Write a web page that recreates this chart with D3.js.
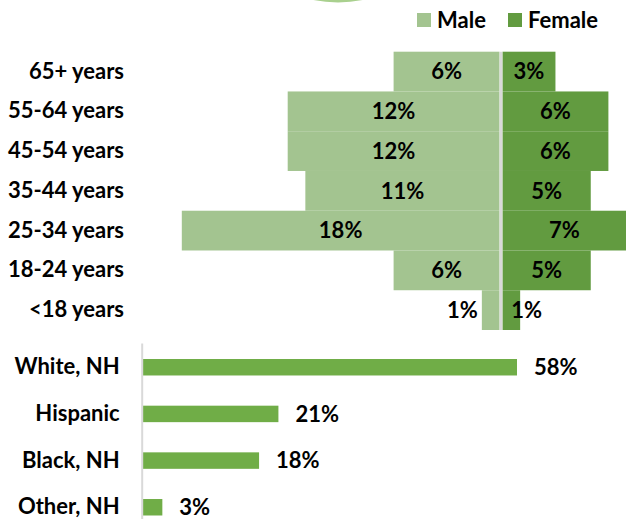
<!DOCTYPE html>
<html>
<head>
<meta charset="utf-8">
<script src="https://cdn.jsdelivr.net/npm/d3@7"></script>
<style>
  body { margin: 0; background: #fff; }
  svg { display: block; font-family: Lato, "Open Sans", sans-serif; font-weight: 700; }
</style>
</head>
<body>
<div id="chart"></div>
<script>
// age pyramid data (percent)
const ageGroups = ["65+ years", "55-64 years", "45-54 years", "35-44 years", "25-34 years", "18-24 years", "<18 years"];
const maleValues = [6, 12, 12, 11, 18, 6, 1];
const femaleValues = [3, 6, 6, 5, 7, 5, 1];
const seriesNames = ["Male", "Female"];

// race / ethnicity data (percent)
const ethGroups = ["White, NH", "Hispanic", "Black, NH", "Other, NH"];
const ethValues = [58, 21, 18, 3];

const width = 626, height = 519;
const maleColor = "#a3c490", femaleColor = "#629b40", ethColor = "#70ad47";
const fontSize = 22;

let svg = d3.select("#chart").append("svg")
    .attr("width", width)
    .attr("height", height);

// decorative circle peeking in at the top
svg.append("circle")
    .attr("cx", 338).attr("cy", -123.5).attr("r", 126)
    .style("fill", "#a9d08e");

// ---- pyramid ----
let centerX = 501;
let pxPerPct = 17.65;
let xMale = d3.scaleLinear().domain([0, 1]).range([centerX - 1.5, centerX - 1.5 - pxPerPct]);
let xFemale = d3.scaleLinear().domain([0, 1]).range([centerX + 1.5, centerX + 1.5 + pxPerPct]);
let yAge = d3.scaleBand().domain(ageGroups).range([51.7, 330]).padding(0);

let ageData = ageGroups.map((g, i) => ({group: g, male: maleValues[i], female: femaleValues[i]}));

svg.selectAll(".male-bar")
    .data(ageData)
    .enter().append("rect")
    .attr("class", "male-bar")
    .attr("x", d => xMale(d.male))
    .attr("y", d => yAge(d.group))
    .attr("width", d => xMale(0) - xMale(d.male))
    .attr("height", yAge.bandwidth())
    .style("fill", maleColor);

svg.selectAll(".female-bar")
    .data(ageData)
    .enter().append("rect")
    .attr("class", "female-bar")
    .attr("x", xFemale(0))
    .attr("y", d => yAge(d.group))
    .attr("width", d => xFemale(d.female) - xFemale(0))
    .attr("height", yAge.bandwidth())
    .style("fill", femaleColor);

// center axis line
svg.append("line")
    .attr("x1", centerX).attr("x2", centerX)
    .attr("y1", yAge.range()[0]).attr("y2", yAge.range()[1])
    .style("stroke", "#d9d9d9")
    .style("stroke-width", 2.5);

// value labels (small bars get their label pushed aside)
svg.selectAll(".male-label")
    .data(ageData)
    .enter().append("text")
    .attr("class", "male-label")
    .attr("x", d => d.male < 2 ? xMale(d.male) - 4 : (xMale(d.male) + xMale(0)) / 2)
    .attr("y", d => yAge(d.group) + yAge.bandwidth() / 2)
    .attr("dy", "0.35em")
    .attr("text-anchor", d => d.male < 2 ? "end" : "middle")
    .style("font-size", fontSize + "px")
    .text(d => d.male + "%");

svg.selectAll(".female-label")
    .data(ageData)
    .enter().append("text")
    .attr("class", "female-label")
    .attr("x", d => d.female < 2 ? (xFemale(d.female) + xFemale(0)) / 2 : (xFemale(d.female) + xFemale(0)) / 2)
    .attr("y", d => yAge(d.group) + yAge.bandwidth() / 2)
    .attr("dy", "0.35em")
    .attr("text-anchor", d => d.female < 2 ? "start" : "middle")
    .style("font-size", fontSize + "px")
    .text(d => d.female + "%");

// age category labels
let ageAxis = svg.append("g")
    .attr("transform", "translate(126,0)")
    .call(d3.axisLeft(yAge).tickSize(0).tickPadding(2));
ageAxis.select(".domain").remove();
ageAxis.selectAll("text")
    .style("font-size", fontSize + "px")
    .style("font-family", "Lato, sans-serif")
    .style("font-weight", 700)
    .style("fill", "#000");

// legend
let legend = svg.selectAll(".legend")
    .data(seriesNames)
    .enter().append("g")
    .attr("class", "legend")
    .attr("transform", (d, i) => `translate(${i === 0 ? 417 : 508},13)`);
legend.append("rect")
    .attr("width", 14).attr("height", 14)
    .style("fill", (d, i) => i === 0 ? maleColor : femaleColor);
legend.append("text")
    .attr("x", 20).attr("y", 7).attr("dy", "0.35em")
    .style("font-size", fontSize + "px")
    .text(d => d);

// ---- race / ethnicity bars ----
let xEth = d3.scaleLinear().domain([0, 58]).range([143, 517]);
let yEth = d3.scaleBand().domain(ethGroups).range([343, 531.5])
    .paddingInner(0.647).paddingOuter(0.343);

svg.selectAll(".eth-bar")
    .data(ethGroups)
    .enter().append("rect")
    .attr("class", "eth-bar")
    .attr("x", xEth(0))
    .attr("y", d => yEth(d))
    .attr("width", (d, i) => xEth(ethValues[i]) - xEth(0))
    .attr("height", yEth.bandwidth())
    .style("fill", ethColor);

svg.selectAll(".eth-label")
    .data(ethGroups)
    .enter().append("text")
    .attr("class", "eth-label")
    .attr("x", (d, i) => xEth(ethValues[i]) + 17)
    .attr("y", d => yEth(d) + yEth.bandwidth() / 2)
    .attr("dy", "0.35em")
    .style("font-size", fontSize + "px")
    .text((d, i) => ethValues[i] + "%");

let ethAxis = svg.append("g")
    .attr("transform", "translate(141.7,0)")
    .call(d3.axisLeft(yEth).tickSize(0).tickPadding(22));
ethAxis.select(".domain")
    .style("stroke", "#d9d9d9")
    .style("stroke-width", 2);
ethAxis.selectAll("text")
    .style("font-size", fontSize + "px")
    .style("font-family", "Lato, sans-serif")
    .style("font-weight", 700)
    .style("fill", "#000");
</script>
</body>
</html>
